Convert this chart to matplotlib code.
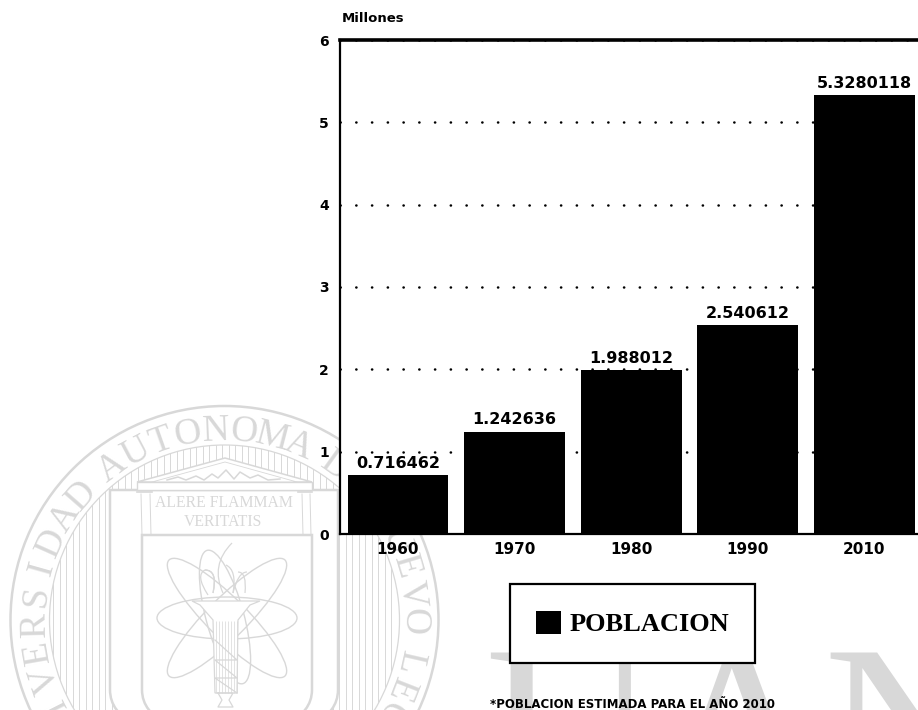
import numpy as np
import matplotlib
matplotlib.use('Agg')
import matplotlib.pyplot as plt
from matplotlib.patches import Circle, Ellipse, PathPatch, Polygon
from matplotlib.path import Path

years = ['1960', '1970', '1980', '1990', '2010']
poblacion = [0.716462, 1.242636, 1.988012, 2.540612, 5.328011]
etiquetas = ['0.716462', '1.242636', '1.988012', '2.540612', '5.3280118']
yticks = [0, 1, 2, 3, 4, 5, 6]

GRIS = '#d8d8d8'

fig = plt.figure(figsize=(9.18, 7.10), dpi=100, facecolor='white')

# marca de agua (coordenadas en pixeles)
bg = fig.add_axes([0, 0, 1, 1], zorder=0)
bg.set_xlim(0, 918)
bg.set_ylim(710, 0)
bg.axis('off')

cx, cy = 224.5, 620
bg.add_patch(Circle((cx, cy), 214, fill=False, ec=GRIS, lw=1.8))
bg.add_patch(Circle((cx, cy), 175, fill=False, ec=GRIS, lw=0.9))

clip = Circle((cx, cy), 175, transform=bg.transData, fill=False, ec='none')
bg.add_patch(clip)
rayas = bg.vlines(np.arange(53, 396, 6.5), 440, 800, color=GRIS, lw=0.7)
rayas.set_clip_path(clip)


def arco(texto, ang0, paso=8.5, r=180, size=27):
    ang = ang0
    for c in texto:
        if c == ' ':
            ang += paso * 0.45
            continue
        t = np.radians(ang)
        bg.text(cx + r * np.sin(t), cy - r * np.cos(t), c, rotation=-ang,
                rotation_mode='anchor', ha='center', va='baseline', fontsize=size,
                family='Liberation Serif', color=GRIS, clip_on=True)
        ang += paso


arco('UNIVERSIDAD AUTONOMA', -36.5 - 8.5 * 11 - 3.8)
arco('DE NUEVO LEON', 35.7)


def curva(puntos, cerrar=False, **kw):
    # curva suave con tramos cuadraticos
    codes = [Path.MOVETO] + [Path.CURVE3] * (len(puntos) - 1)
    return bg.add_patch(PathPatch(Path(puntos, codes), fill=False, ec=GRIS, **kw))


# marco interior
marco = Path([(110, 490), (338, 490), (338, 690), (338, 712), (312, 725), (136, 725), (110, 712), (110, 690), (110, 490)],
             [Path.MOVETO, Path.LINETO, Path.LINETO, Path.CURVE3, Path.CURVE3, Path.LINETO,
              Path.CURVE3, Path.CURVE3, Path.CLOSEPOLY])
bg.add_patch(PathPatch(marco, fc='white', ec=GRIS, lw=1.8, zorder=2))

# fronton
bg.add_patch(Polygon([(225, 458), (312, 482), (137, 482)], closed=True, fc='white', ec=GRIS, lw=1.1, zorder=2))
bg.add_patch(Polygon([(225, 462), (297, 482), (152, 482)], closed=True, fc='white', ec=GRIS, lw=0.6, zorder=2))
bg.add_patch(Polygon([(137, 482), (312, 482), (312, 490), (137, 490)], closed=True, fc='white', ec=GRIS, lw=1.0, zorder=2))
bg.plot([167, 178, 186, 196, 204, 212, 218, 226, 234, 240, 250, 258, 268, 280],
        [480, 477, 480, 476, 480, 474, 478, 470, 479, 472, 478, 475, 480, 479], color=GRIS, lw=1.1, zorder=3)
for x0, x1 in [(137, 152), (298, 312)]:
    bg.plot([x0, x1], [492, 492], color=GRIS, lw=1.2, zorder=3)
    bg.plot([x0 + 4, x0 + 5], [494, 535], color=GRIS, lw=0.7, zorder=3)
    bg.plot([x1 - 2, x1 - 1], [494, 535], color=GRIS, lw=0.7, zorder=3)

bg.text(224, 503, 'ALERE FLAMMAM', ha='center', va='center', fontsize=11.3, color=GRIS,
        family='Liberation Serif', zorder=3)
bg.text(223, 522, 'VERITATIS', ha='center', va='center', fontsize=11.3, color=GRIS,
        family='Liberation Serif', zorder=3)

# escudo
escudo = Path([(142, 535), (312, 535), (312, 690), (312, 712), (285, 725), (169, 725), (142, 712), (142, 690), (142, 535)],
              [Path.MOVETO, Path.LINETO, Path.LINETO, Path.CURVE3, Path.CURVE3, Path.LINETO,
               Path.CURVE3, Path.CURVE3, Path.CLOSEPOLY])
bg.add_patch(PathPatch(escudo, fc='white', ec=GRIS, lw=1.8, zorder=3))

# atomo
for centro, ang, a, b in [((227, 618), 0, 70, 21), ((227, 618), 45, 82, 20),
                          ((227, 618), -45, 82, 20), ((225, 617), 75, 69, 19)]:
    bg.add_patch(Ellipse(centro, 2 * a, 2 * b, angle=ang, fill=False, ec=GRIS, lw=1.0, zorder=4))

# antorcha
bg.add_patch(Polygon([(192, 601), (260, 601), (250, 605), (238, 620), (237, 693), (215, 693), (213, 620), (200, 605)],
                     closed=True, fc='white', ec=GRIS, lw=0.9, zorder=5))
bg.vlines(np.arange(216, 238, 3), 621, 693, color=GRIS, lw=0.5, zorder=6)
bg.plot([215, 237, 215, 237, 215, 237], [640, 660, 660, 678, 678, 693], color=GRIS, lw=0.9, zorder=6)
bg.plot([218, 233, 229, 233, 218, 222, 218], [693, 693, 700, 707, 707, 700, 693], color=GRIS, lw=0.9, zorder=6)
for p in [[(223, 593), (210, 565), (232, 543), (226, 565), (237, 570), (233, 593)],
          [(208, 595), (195, 575), (205, 570), (218, 570), (213, 593)],
          [(245, 593), (247, 572), (238, 572), (233, 593)]]:
    curva(p[:3] if len(p) % 2 == 0 else p, lw=0.9, zorder=6)
    curva(p[-3:], lw=0.9, zorder=6)

# UAN
bg.text(485, 807, 'UAN', fontsize=169, family='Liberation Serif', color=GRIS,
        ha='left', va='baseline', clip_on=True)

# grafica
ax = fig.add_axes([340 / 918, (710 - 534) / 710, 578 / 918, 494 / 710], zorder=2, facecolor='white')
x = np.arange(len(years))
ax.bar(x, poblacion, width=0.865, color='black', zorder=3, label='POBLACION')
ax.set_xlim(-0.497, 4.46)
ax.set_ylim(0, 6)
ax.set_yticks(yticks)
ax.set_xticks(x)
ax.set_xticklabels(years, fontweight='bold', fontsize=11)
ax.set_yticklabels([str(v) for v in yticks], fontweight='bold', fontsize=10)
ax.tick_params(length=0, axis='x', pad=6)
ax.tick_params(length=0, axis='y', pad=8)
ax.yaxis.grid(True, color='black', lw=1.8, linestyle=(0, (0.1, 6.2)), dash_capstyle='round', zorder=1)
ax.set_axisbelow(True)

ax.spines['right'].set_visible(False)
ax.spines['top'].set_linewidth(2.6)
ax.spines['left'].set_linewidth(1.6)
ax.spines['bottom'].set_linewidth(1.6)

for xi, v, e in zip(x, poblacion, etiquetas):
    ax.annotate(e, (xi, v), xytext=(0, 8.5), textcoords='offset points', ha='center', va='center',
                fontweight='bold', fontsize=11.5, zorder=5, annotation_clip=False)

fig.text(342 / 918, 1 - 18 / 710, 'Millones', fontweight='bold', fontsize=9.5, va='center', zorder=3)

leg = ax.legend(loc='center', bbox_to_anchor=((512 + 753) / 2 / 918, 1 - (583 + 664) / 2 / 710),
                bbox_transform=fig.transFigure, frameon=True, fancybox=False, framealpha=1,
                edgecolor='black', handlelength=0.95, handleheight=1.0, handletextpad=0.3,
                borderpad=1.0, prop={'family': 'Liberation Serif', 'weight': 'bold', 'size': 19})
leg.get_frame().set_linewidth(1.6)

fig.text(490 / 918, 1 - 704 / 710, '*POBLACION ESTIMADA PARA EL AÑO 2010', fontweight='bold',
         fontsize=8.5, va='center', zorder=3)

fig.savefig('out.png', dpi=100)
